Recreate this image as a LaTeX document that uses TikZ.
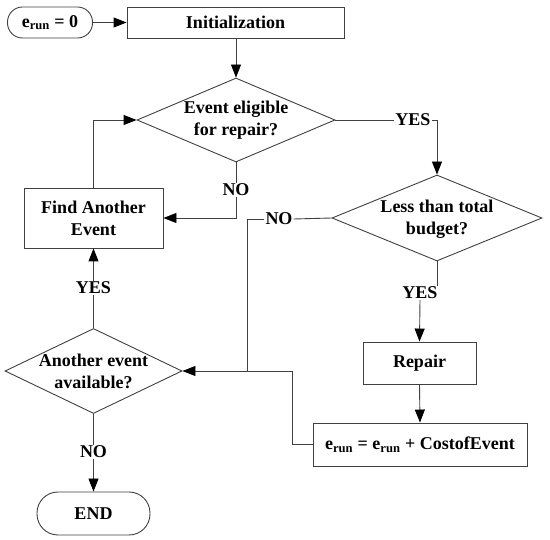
\documentclass[tikz,border=0pt]{standalone}
\usepackage{fontspec}
\setmainfont{Liberation Serif}
\usetikzlibrary{shapes.geometric,arrows.meta}
\begin{document}
\begin{tikzpicture}[x=1pt,y=-1pt,
  every node/.style={font=\fontsize{18}{22}\selectfont\bfseries, text=black},
  ln/.style={draw=black!75, line width=0.9pt},
  arr/.style={ln,-{Triangle[length=13pt,width=10pt,color=black]}},
  box/.style={draw=black!75, line width=0.9pt, rectangle, inner sep=0pt, align=center},
  dia/.style={draw=black!75, line width=0.9pt, diamond, inner sep=0pt},
  lbl/.style={inner sep=1pt},
  txt/.style={align=center, inner sep=0pt}
]
\useasboundingbox (0,0) rectangle (550,540);

% nodes
\node[box, minimum width=85pt, minimum height=31pt, rounded corners=15pt] (start) at (50,22.5) {e\textsubscript{run} = 0};
\node[box, minimum width=217pt, minimum height=31pt] (init) at (235.5,22.5) {Initialization};
\node[dia, minimum width=198pt, minimum height=84pt] (d1) at (236,120) {};
\node[txt] at (236,120) {Event eligible\\for repair?};
\node[dia, minimum width=210pt, minimum height=86pt] (d2) at (437,218) {};
\node[txt] at (437,219) {Less than total\\budget?};
\node[box, minimum width=139pt, minimum height=60pt] (find) at (93.5,218) {Find Another\\Event};
\node[dia, minimum width=177pt, minimum height=85pt] (d3) at (93.5,371) {};
\node[txt] at (93.5,371) {Another event\\available?};
\node[box, minimum width=113pt, minimum height=43pt, rounded corners=21pt] (end) at (93.5,513.5) {END};
\node[box, minimum width=113pt, minimum height=42pt] (repair) at (419.5,363) {Repair};
\node[box, minimum width=214pt, minimum height=43pt] (last) at (420,444.5) {e\textsubscript{run} = e\textsubscript{run} + CostofEvent};

% labels
\node[lbl] (yes1) at (413,120) {YES};
\node[lbl] (no1) at (236,190) {NO};
\node[lbl] (no2) at (279,219) {NO};
\node[lbl] (yes3) at (93.5,288) {YES};
\node[lbl] (no3) at (93.5,452) {NO};
\node[lbl] (yes2) at (420,293) {YES};
\coordinate (j) at (247,371);

% connectors
\draw[arr] (start) -- (init);
\draw[arr] (init.south -| d1.north) -- (d1.north);
\draw[ln] (d1.east) -- (yes1.west);
\draw[arr] (yes1.east) -| (d2.north);
\draw[ln] (d1.south) -- (no1.north);
\draw[arr] (no1.south) |- (find.east);
\draw[arr] (find.north) |- (d1.west);
\draw[ln] (d2.west) -- (no2.east);
\draw[ln] (no2.west) -| (j);
\draw[ln] (d3.north) -- (yes3.south);
\draw[arr] (yes3.north) -- (find.south);
\draw[ln] (d3.south) -- (no3.north);
\draw[arr] (no3.south) -- (end.north);
\draw[ln] (d2.south) -- (d2.south |- yes2.north);
\draw[arr] (yes2.south) -- (repair.north);
\draw[arr] (repair.south) -- (last.north);
\draw[arr] (last.west) -- ++(-20,0) |- (d3.east);
\end{tikzpicture}
\end{document}
